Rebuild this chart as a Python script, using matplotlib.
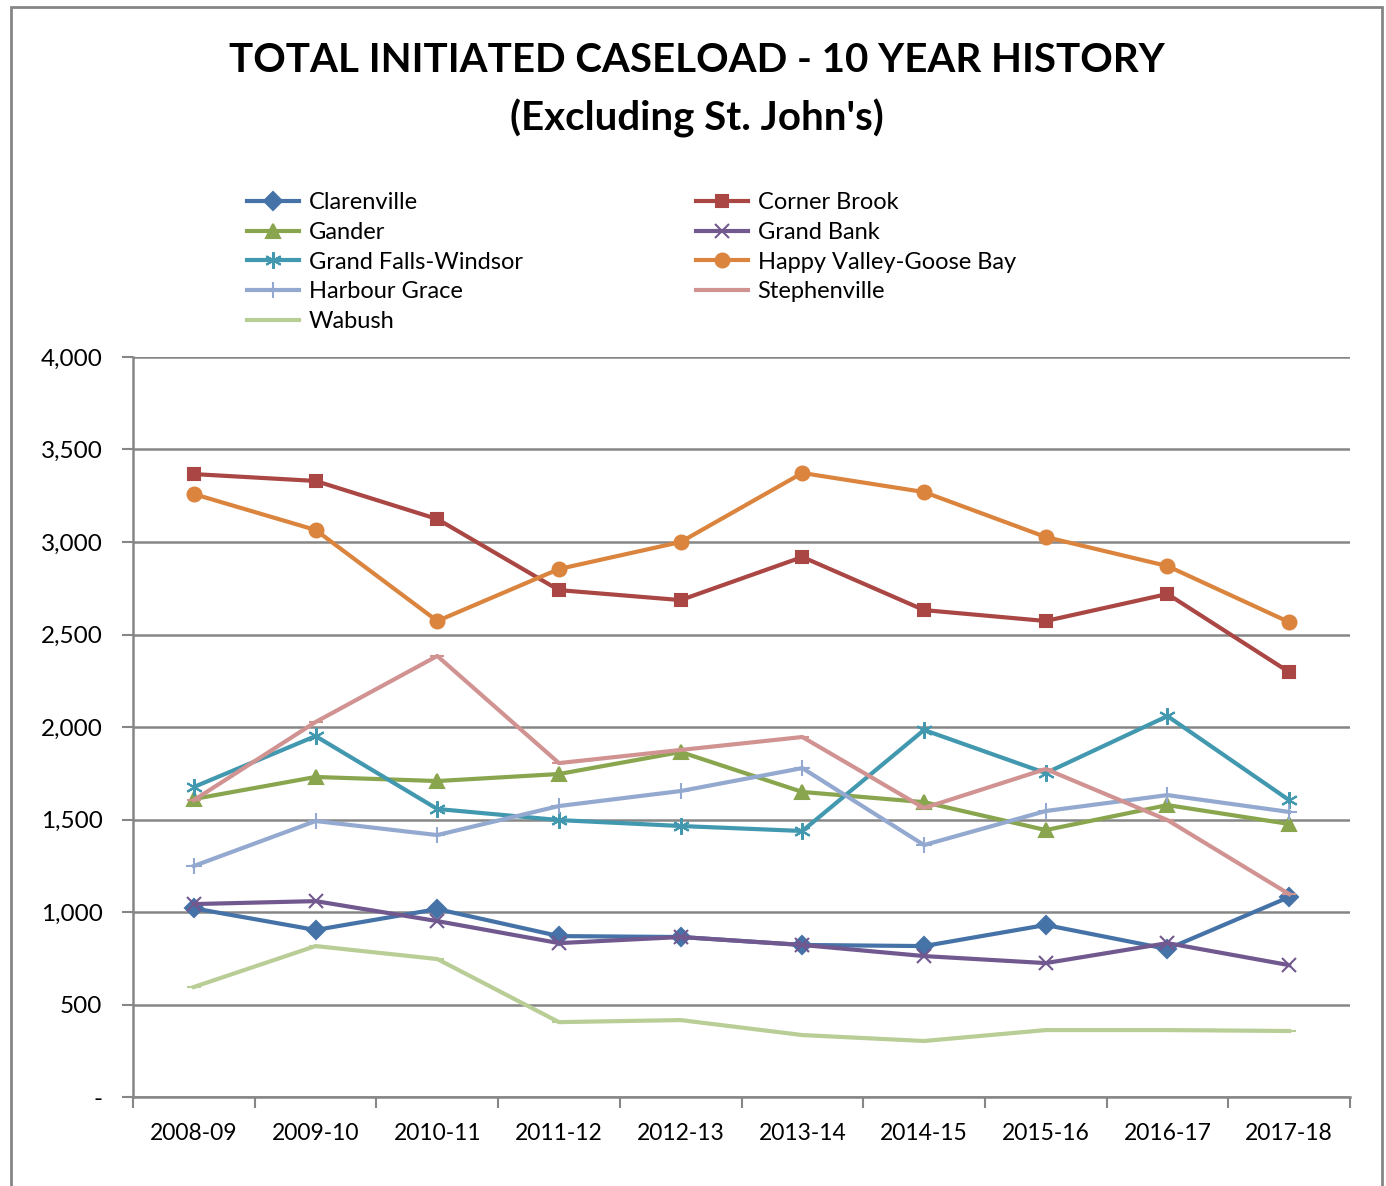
import matplotlib.pyplot as plt
from matplotlib.ticker import FuncFormatter
from matplotlib.patches import Rectangle

plt.rcParams['font.family'] = ['Lato', 'DejaVu Sans']

years = ['2008-09', '2009-10', '2010-11', '2011-12', '2012-13',
         '2013-14', '2014-15', '2015-16', '2016-17', '2017-18']

clarenville = [1020, 903, 1016, 870, 865, 822, 816, 930, 800, 1081]
corner_brook = [3367, 3330, 3124, 2740, 2686, 2919, 2632, 2573, 2719, 2297]
gander = [1611, 1730, 1708, 1746, 1865, 1649, 1594, 1443, 1578, 1476]
grand_bank = [1043, 1059, 951, 832, 865, 822, 762, 724, 832, 713]
grand_falls = [1676, 1951, 1557, 1497, 1465, 1438, 1984, 1751, 2059, 1605]
happy_valley = [3259, 3065, 2573, 2854, 3000, 3373, 3270, 3027, 2870, 2567]
harbour_grace = [1249, 1492, 1416, 1573, 1654, 1778, 1362, 1546, 1632, 1541]
stephenville = [1605, 2027, 2384, 1805, 1876, 1946, 1562, 1773, 1497, 1097]
wabush = [595, 816, 746, 405, 416, 335, 303, 362, 362, 357]

# legend order is column by column (matplotlib fills columns first)
series = [
    ('Clarenville', clarenville, '#4572A7', 'D', 9),
    ('Gander', gander, '#89A54E', '^', 10),
    ('Grand Falls-Windsor', grand_falls, '#4198AF', (6, 2, 0), 12),
    ('Harbour Grace', harbour_grace, '#93A9CF', '+', 12),
    ('Wabush', wabush, '#B9CD96', '_', 10),
    ('Corner Brook', corner_brook, '#AA4643', 's', 9),
    ('Grand Bank', grand_bank, '#71588F', 'x', 10),
    ('Happy Valley-Goose Bay', happy_valley, '#DB843D', 'o', 10),
    ('Stephenville', stephenville, '#D19392', '_', 10),
]

fig = plt.figure(figsize=(13.86, 11.86), dpi=100)
ax = fig.add_axes([0.096, 0.075, 0.878, 0.624])

x = list(range(len(years)))
for name, vals, col, mk, ms in series:
    ax.plot(x, vals, color=col, lw=3, marker=mk, markersize=ms,
            markeredgecolor=col, markerfacecolor=col, markeredgewidth=1.5,
            label=name)

ax.set_xlim(-0.5, len(years) - 0.5)
ax.set_ylim(0, 4000)
ax.set_yticks(range(0, 4001, 500))
ax.yaxis.set_major_formatter(FuncFormatter(lambda v, p: '-' if v == 0 else f'{int(v):,}'))
ax.set_xticks(x)
ax.set_xticklabels(years)
ax.set_xticks([i - 0.5 for i in range(len(years) + 1)], minor=True)
ax.tick_params(axis='x', which='major', length=0, pad=19, labelsize=16.5)
ax.tick_params(axis='x', which='minor', length=8, width=1.5, color='#868686')
ax.tick_params(axis='y', length=8, width=1.5, color='#868686', labelsize=17.5, pad=14)

ax.grid(axis='y', color='#868686', lw=1.8)
ax.set_axisbelow(True)
for s in ['top', 'right']:
    ax.spines[s].set_visible(False)
for s in ['left', 'bottom']:
    ax.spines[s].set_color('#868686')
    ax.spines[s].set_linewidth(1.8)

fig.text(0.503, 0.949, 'TOTAL INITIATED CASELOAD - 10 YEAR HISTORY', ha='center', va='center',
         fontsize=29, fontweight='bold')
fig.text(0.503, 0.900, "(Excluding St. John's)", ha='center', va='center',
         fontsize=29, fontweight='bold')

handles, labels = ax.get_legend_handles_labels()
fig.legend(handles, labels, ncol=2, loc='upper left', bbox_to_anchor=(0.1716, 0.846),
           frameon=False, fontsize=17, handlelength=2.2, handletextpad=0.4,
           columnspacing=7.35, labelspacing=0.37, borderaxespad=0)

fig.patches.append(Rectangle((11 / 1386, -0.1), (1382 - 11) / 1386, 1.1 - 7 / 1186,
                             transform=fig.transFigure, fill=False,
                             edgecolor='#868686', lw=2))

fig.savefig('out.png', dpi=100)
